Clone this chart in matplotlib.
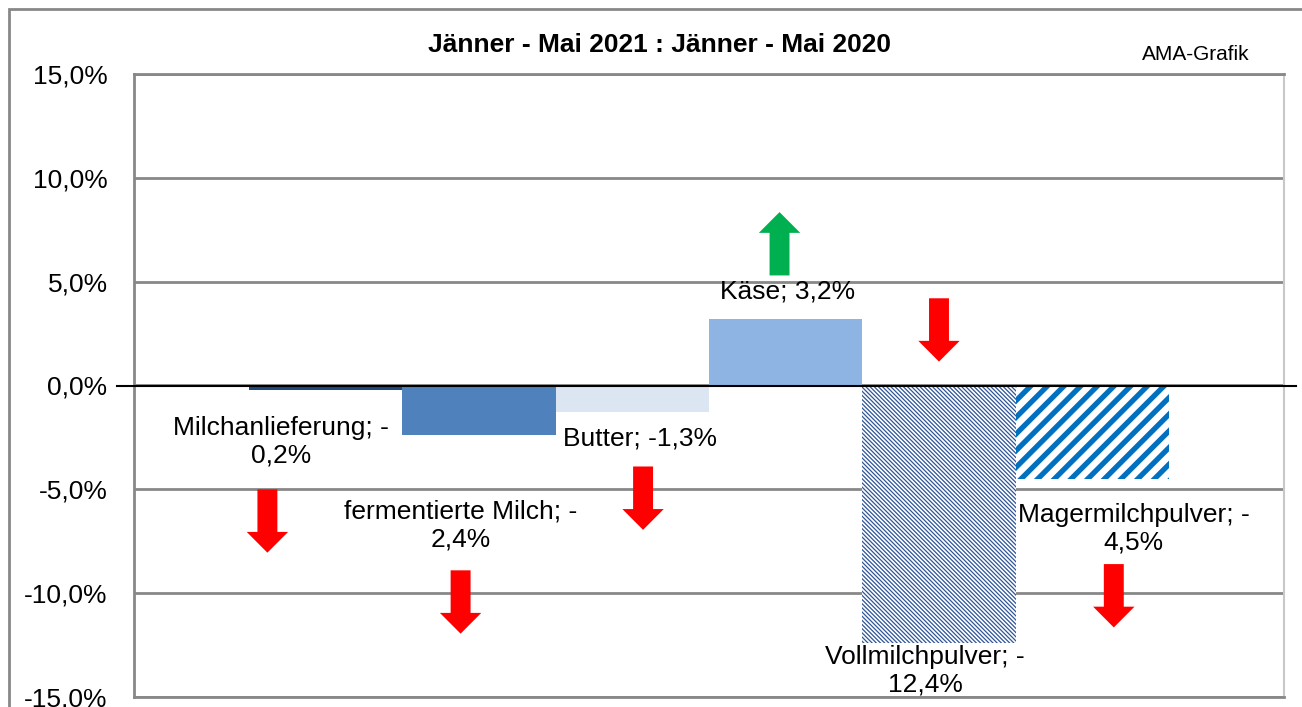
import matplotlib.pyplot as plt
from matplotlib.patches import FancyArrow, Rectangle
from matplotlib.ticker import FuncFormatter

# data
categories = ["Milchanlieferung", "fermentierte Milch", "Butter", "Käse",
              "Vollmilchpulver", "Magermilchpulver"]
changes = [-0.2, -2.4, -1.3, 3.2, -12.4, -4.5]
label_texts = ["Milchanlieferung; -\n0,2%", "fermentierte Milch; -\n2,4%",
               "Butter; -1,3%", "Käse; 3,2%", "Vollmilchpulver; -\n12,4%",
               "Magermilchpulver; -\n4,5%"]
label_pos = [(-0.29, -2.7), (0.88, -6.74), (2.05, -2.55), (3.01, 4.55),
             (3.91, -13.72), (5.27, -6.91)]
# arrows: x, start y, length (negative = down)
arrow_x = [-0.38, 0.88, 2.07, 2.96, 4.0, 5.14]
arrow_y = [-5.0, -8.9, -3.9, 5.3, 4.2, -8.6]
arrow_len = [-3.05, -3.05, -3.05, 3.05, -3.05, -3.05]
arrow_col = ["#FF0000", "#FF0000", "#FF0000", "#00B050", "#FF0000", "#FF0000"]

plt.rcParams['font.family'] = ['Liberation Sans', 'DejaVu Sans']

fig = plt.figure(figsize=(13.02, 7.07), dpi=100)
ax = fig.add_axes([134 / 1302, 1 - 697 / 707, 1150 / 1302, 623 / 707])

face = ["#1F497D", "#4F81BD", "#DCE6F2", "#8EB4E3", "white", "white"]
hatches = [None, None, None, None, "\\" * 8, "//"]
hcol = [None, None, None, None, "#2F5597", "#0070C0"]
hlw = [0, 0, 0, 0, 0.9, 3.8]
for i, v in enumerate(changes):
    if hatches[i]:
        plt.rcParams['hatch.linewidth'] = hlw[i]
        b = ax.bar(i, v, width=1.0, color="white", edgecolor=hcol[i],
                   hatch=hatches[i], linewidth=0, zorder=2)
        for p in b:
            if hasattr(p, "set_hatch_linewidth"):
                p.set_hatch_linewidth(hlw[i])
    else:
        ax.bar(i, v, width=1.0, color=face[i], linewidth=0, zorder=2)

ax.set_xlim(-1.25, 6.25)
ax.set_ylim(-15, 15)
ax.set_yticks([-15, -10, -5, 0, 5, 10, 15])
ax.yaxis.set_major_formatter(FuncFormatter(lambda v, p: f"{v:.1f}%".replace(".", ",")))
ax.tick_params(axis='y', length=0, pad=19, labelsize=19)
ax.set_xticks([])
ax.grid(axis='y', color="#888888", linewidth=2, zorder=0)
for s in ["left", "bottom", "top"]:
    ax.spines[s].set_color("#888888")
    ax.spines[s].set_linewidth(2)
ax.spines["right"].set_color("#C8C8C8")
ax.spines["right"].set_linewidth(1.5)

# zero axis line
ax.plot([-0.015, 1.01], [0.5, 0.5], color="black", linewidth=1.5,
        transform=ax.transAxes, clip_on=False, zorder=3)

for (x, y), t in zip(label_pos, label_texts):
    ax.text(x, y, t, ha="center", va="center", fontsize=19, linespacing=1.2, zorder=4)

for x, y, l, c in zip(arrow_x, arrow_y, arrow_len, arrow_col):
    ax.add_patch(FancyArrow(x, y, 0, l, width=0.13, head_width=0.27,
                            head_length=1.0, length_includes_head=True,
                            color=c, linewidth=0, zorder=5))

fig.text(660 / 1302, 1 - 45 / 707, "Jänner - Mai 2021 : Jänner - Mai 2020",
         ha="center", va="center", fontsize=19, fontweight="bold")
fig.text(1196 / 1302, 1 - 55 / 707, "AMA-Grafik", ha="center", va="center",
         fontsize=15)

fig.patches.append(Rectangle((9 / 1302, -0.01), 1.1, 1 - 9 / 707 + 0.01,
                             transform=fig.transFigure, fill=False,
                             edgecolor="#888888", linewidth=2))

fig.savefig("out.png", dpi=100)
